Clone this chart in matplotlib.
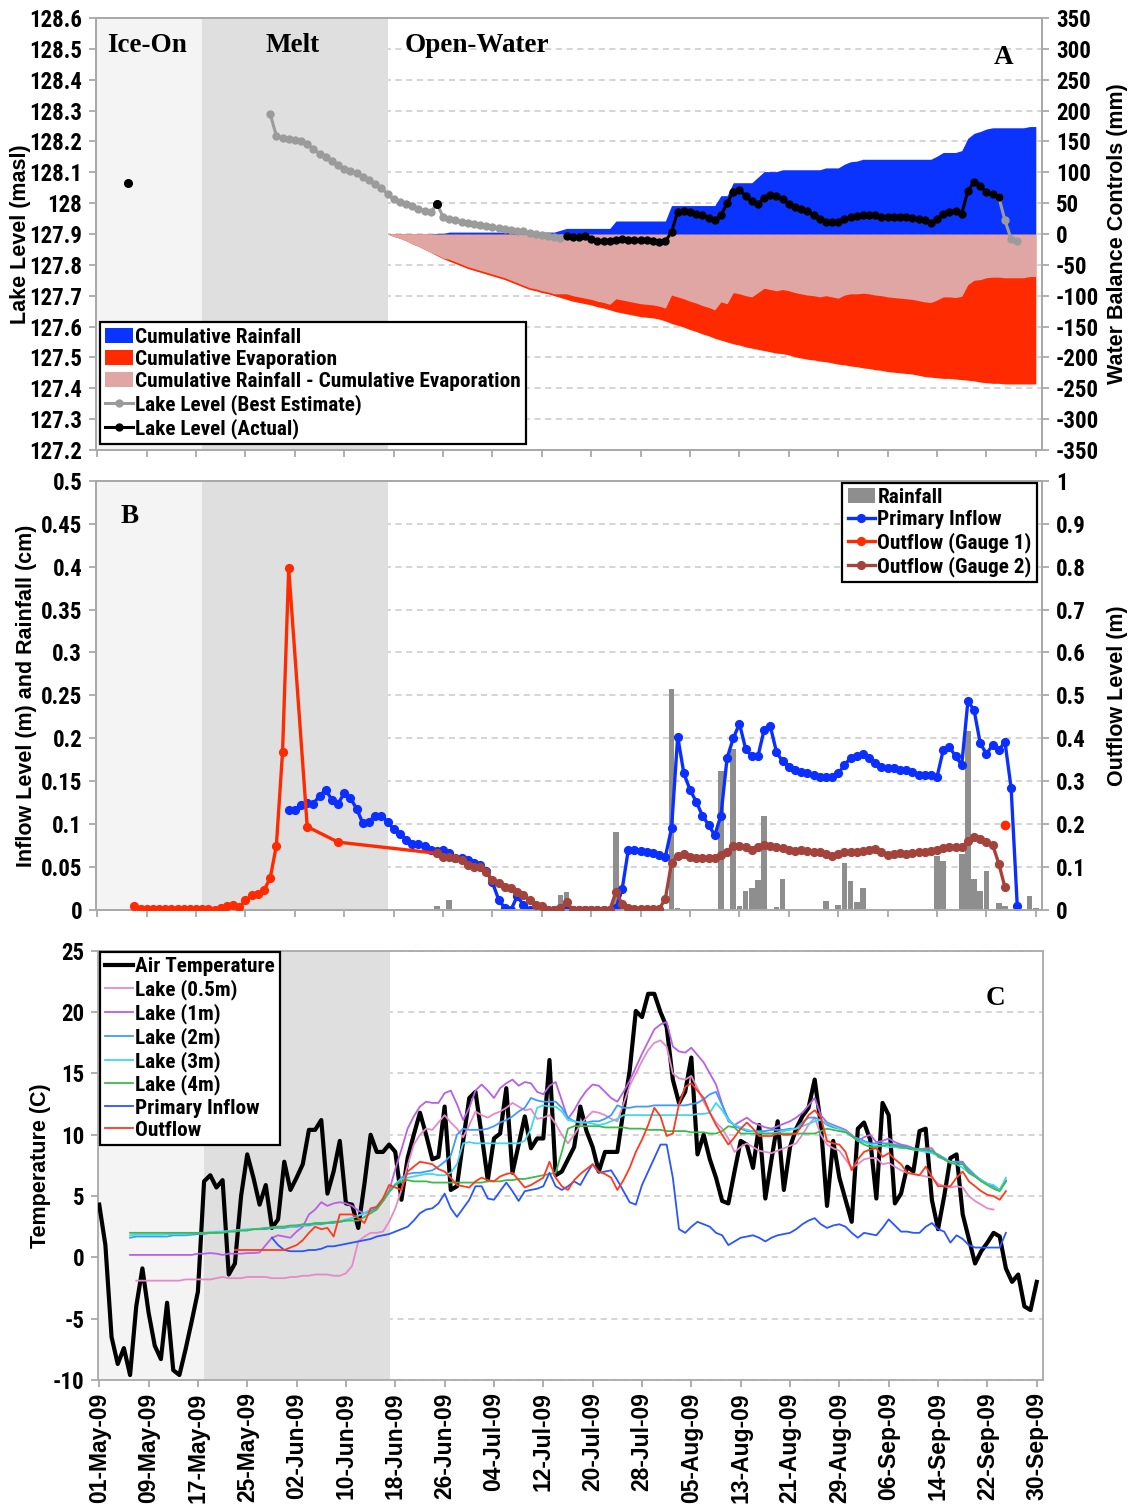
import numpy as np
import pandas as pd
import matplotlib
matplotlib.use("Agg")
import matplotlib.pyplot as plt
import matplotlib.dates as mdates
from matplotlib import font_manager
from matplotlib.ticker import FixedLocator, FuncFormatter


def _is_bold(w):
    return w == "bold" or (isinstance(w, (int, float)) and w >= 600)


def pick_narrow_face():
    # prefer a bold condensed sans face for the upright labels
    prefs = ["Liberation Sans Narrow", "Arial Narrow", "Roboto Condensed",
             "Open Sans Condensed", "Noto Sans", "Roboto", "Open Sans", "DejaVu Sans"]
    faces = [f for f in font_manager.fontManager.ttflist
             if _is_bold(f.weight) and f.style == "normal"
             and (f.stretch in ("condensed", "semi-condensed", "extra-condensed")
                  or "Narrow" in f.name or "Condensed" in f.name)]
    for name in prefs:
        for f in faces:
            if f.name == name:
                return f
    return faces[0] if faces else None


_names = {f.name for f in font_manager.fontManager.ttflist}
SANS = "Liberation Sans" if "Liberation Sans" in _names else "DejaVu Sans"
SERIF = "Liberation Serif" if "Liberation Serif" in _names else "DejaVu Serif"
_face = pick_narrow_face()
if _face is not None:
    NARROW, STRETCH = _face.name, _face.stretch
    TICK_SIZE, LEG_SIZE, LEG_SPACING, HANDLE_LEN = 16.5, 15.3, 0.15, 1.3
else:
    NARROW, STRETCH = SANS, "normal"
    TICK_SIZE, LEG_SIZE, LEG_SPACING, HANDLE_LEN = 14.5, 12.5, 0.3, 1.55

plt.rcParams["font.family"] = [NARROW, "DejaVu Sans"]
plt.rcParams["font.weight"] = "bold"
plt.rcParams["font.stretch"] = STRETCH

# ---------------- A: lake level and cumulative water balance ----------------
lake_best_start = "2009-05-29"
lake_best = [
    128.288, 128.218, 128.212, 128.208, 128.204, 128.200, 128.190, 128.175, 128.160, 128.150,
    128.135, 128.122, 128.110, 128.103, 128.097, 128.085, 128.075, 128.062, 128.048, 128.030,
    128.012, 128.005, 127.997, 127.990, 127.982, 127.974, 127.970, 127.997, 127.956, 127.950,
    127.944, 127.940, 127.936, 127.933, 127.930, 127.926, 127.922, 127.920, 127.917, 127.914,
    127.911, 127.908, 127.904, 127.900, 127.896, 127.892, 127.889, 127.888,
]
lake_best_tail_start = "2009-09-24"
lake_best_tail = [128.020, 127.944, 127.884, 127.878]

lake_actual_start = "2009-07-16"
lake_actual = [
    127.892, 127.890, 127.890, 127.894, 127.884, 127.878, 127.876, 127.878, 127.880, 127.884,
    127.882, 127.882, 127.882, 127.882, 127.876, 127.874, 127.876, 127.906, 127.972, 127.974,
    127.970, 127.966, 127.960, 127.952, 127.944, 127.960, 128.000, 128.036, 128.042, 128.024,
    128.006, 127.998, 128.016, 128.026, 128.024, 128.012, 127.998, 127.988, 127.980, 127.974,
    127.960, 127.948, 127.940, 127.938, 127.940, 127.948, 127.954, 127.958, 127.960, 127.962,
    127.960, 127.956, 127.954, 127.954, 127.954, 127.954, 127.952, 127.948, 127.944, 127.934,
    127.948, 127.964, 127.972, 127.976, 127.966, 128.040, 128.068, 128.054, 128.036, 128.028,
    128.020,
]
lake_actual_spot_days = ["2009-05-06", "2009-06-25"]
lake_actual_spot = [128.065, 127.997]

balance_start = "2009-06-17"
cum_rain = [
    0, 0, 0, 0, 0, 0, 0, 0, 1, 1,
    3, 3, 3, 3, 3, 3, 3, 3, 3, 3,
    3, 3, 3, 3, 3, 3, 3, 3, 6, 9,
    9, 9, 9, 9, 9, 9, 9, 21, 21, 21,
    21, 21, 21, 21, 21, 21, 46, 46, 46, 46,
    46, 46, 46, 46, 62, 62, 83, 83, 83, 83,
    92, 101, 101, 101, 104, 104, 104, 104, 104, 104,
    104, 107, 107, 107, 113, 117, 118, 121, 121, 121,
    121, 121, 121, 121, 121, 121, 121, 121, 121, 126,
    132, 132, 132, 135, 155, 163, 166, 170, 172, 172,
    172, 172, 172, 172, 174, 174,
]
cum_evap = [
    0, -4, -7, -11, -16, -20, -25, -30, -35, -40,
    -44, -48, -52, -56, -59, -62, -65, -68, -71, -74,
    -78, -82, -86, -90, -92, -95, -97, -100, -103, -106,
    -109, -111, -113, -115, -118, -120, -123, -126, -128, -130,
    -132, -134, -135, -136, -138, -141, -145, -148, -151, -155,
    -158, -162, -165, -169, -172, -175, -178, -180, -183, -185,
    -187, -189, -191, -193, -194, -196, -199, -201, -203, -204,
    -206, -207, -209, -211, -212, -214, -215, -217, -218, -220,
    -221, -223, -224, -225, -226, -227, -229, -231, -232, -233,
    -234, -234, -235, -236, -237, -238, -240, -241, -242, -242,
    -243, -243, -243, -243, -243, -243,
]

# ---------------- B: inflow, outflow and rainfall ----------------
rain_days = [
    "2009-06-25", "2009-06-27", "2009-07-15", "2009-07-16", "2009-07-24", "2009-08-02",
    "2009-08-03", "2009-08-10", "2009-08-12", "2009-08-13", "2009-08-14", "2009-08-15",
    "2009-08-16", "2009-08-17", "2009-08-19", "2009-08-20", "2009-08-27", "2009-08-29",
    "2009-08-30", "2009-08-31", "2009-09-01", "2009-09-02", "2009-09-14", "2009-09-15",
    "2009-09-18", "2009-09-19", "2009-09-20", "2009-09-21", "2009-09-22", "2009-09-24",
    "2009-09-25", "2009-09-29", "2009-09-30",
]
rain_cm = [
    0.005, 0.012, 0.017, 0.021, 0.091, 0.258,
    0.002, 0.162, 0.187, 0.004, 0.022, 0.025,
    0.035, 0.109, 0.003, 0.036, 0.010, 0.006,
    0.055, 0.034, 0.009, 0.026, 0.063, 0.057,
    0.065, 0.209, 0.036, 0.022, 0.045, 0.008,
    0.004, 0.016, 0.002,
]

inflow_start = "2009-06-01"
inflow_m = [
    0.116, 0.117, 0.122, 0.125, 0.124, 0.133, 0.140, 0.128, 0.124, 0.136,
    0.130, 0.118, 0.101, 0.103, 0.110, 0.110, 0.103, 0.094, 0.089, 0.082,
    0.077, 0.077, 0.074, 0.070, 0.069, 0.070, 0.066, 0.061, 0.060, 0.058,
    0.055, 0.052, 0.045, 0.032, 0.012, 0.002, 0.000, 0.016, 0.006, 0.000,
    0.000, 0.000, 0.000, 0.000, 0.000, 0.000, 0.000, 0.000, 0.000, 0.000,
    0.000, 0.000, 0.000, 0.002, 0.024, 0.070, 0.070, 0.069, 0.068, 0.066,
    0.064, 0.062, 0.095, 0.202, 0.159, 0.140, 0.126, 0.110, 0.099, 0.087,
    0.110, 0.177, 0.200, 0.217, 0.188, 0.179, 0.179, 0.210, 0.214, 0.184,
    0.173, 0.167, 0.163, 0.161, 0.159, 0.157, 0.155, 0.155, 0.155, 0.159,
    0.169, 0.177, 0.179, 0.182, 0.177, 0.171, 0.167, 0.165, 0.165, 0.163,
    0.163, 0.161, 0.157, 0.157, 0.157, 0.155, 0.186, 0.190, 0.179, 0.169,
    0.243, 0.233, 0.194, 0.182, 0.192, 0.186, 0.196, 0.142, 0.004,
]

gauge1_start = "2009-05-07"
gauge1_m = [
    0.008, 0.002, 0.002, 0.002, 0.002, 0.002, 0.002, 0.002, 0.002, 0.002,
    0.002, 0.002, 0.002, 0.000, 0.004, 0.008, 0.012, 0.006, 0.022, 0.034,
    0.038, 0.046, 0.074, 0.150, 0.368, 0.796,
]
gauge1_late_days = ["2009-06-04", "2009-06-09", "2009-06-25"]
gauge1_late_m = [0.194, 0.158, 0.132]
gauge1_spot_day = "2009-09-25"
gauge1_spot_m = 0.198

gauge2_start = "2009-06-25"
gauge2_m = [
    0.132, 0.124, 0.124, 0.120, 0.116, 0.104, 0.100, 0.100, 0.088, 0.070,
    0.062, 0.054, 0.050, 0.042, 0.034, 0.022, 0.012, 0.008, 0.000, 0.000,
    0.004, 0.018, 0.000, 0.000, 0.000, 0.000, 0.000, 0.000, 0.000, 0.042,
    0.014, 0.004, 0.002, 0.002, 0.002, 0.002, 0.002, 0.026, 0.110, 0.126,
    0.130, 0.124, 0.122, 0.120, 0.120, 0.122, 0.128, 0.136, 0.150, 0.150,
    0.146, 0.140, 0.146, 0.152, 0.150, 0.146, 0.144, 0.140, 0.138, 0.140,
    0.138, 0.136, 0.134, 0.130, 0.126, 0.130, 0.134, 0.134, 0.136, 0.138,
    0.140, 0.142, 0.136, 0.128, 0.130, 0.132, 0.130, 0.132, 0.134, 0.136,
    0.138, 0.140, 0.144, 0.146, 0.146, 0.146, 0.160, 0.170, 0.166, 0.158,
    0.152, 0.108, 0.053,
]

# ---------------- C: temperatures ----------------
air_start = "2009-05-01"
air_temp = [
    4.3, 1.0, -6.5, -8.7, -7.4, -9.6, -4.0, -0.9, -4.5, -7.2,
    -8.3, -3.7, -9.2, -9.6, -7.5, -5.2, -2.8, 6.2, 6.7, 5.7,
    6.3, -1.4, -0.5, 5.0, 8.4, 6.5, 4.3, 5.9, 2.4, 3.1,
    7.8, 5.5, 6.5, 7.6, 10.4, 10.4, 11.2, 5.2, 7.0, 9.5,
    4.4, 4.3, 2.4, 6.0, 10.0, 8.6, 8.6, 9.2, 8.6, 4.7,
    8.1, 10.0, 11.8, 10.0, 8.0, 8.2, 12.3, 5.5, 5.8, 9.5,
    13.0, 13.5, 10.0, 6.3, 9.7, 10.1, 13.8, 6.9, 9.2, 11.5,
    8.9, 9.7, 9.7, 16.1, 6.7, 7.0, 8.0, 9.0, 12.3, 10.3,
    9.0, 7.0, 8.6, 8.6, 8.6, 12.0, 15.2, 20.1, 19.6, 21.5,
    21.5, 20.0, 18.8, 14.5, 12.6, 13.5, 16.3, 8.4, 10.0, 8.0,
    6.5, 4.6, 4.4, 7.0, 9.5, 9.2, 7.3, 10.8, 4.8, 8.0,
    11.1, 5.5, 9.0, 10.5, 11.5, 12.2, 14.5, 10.8, 4.2, 9.5,
    6.5, 4.7, 2.9, 10.5, 11.0, 9.6, 4.8, 12.6, 11.6, 4.4,
    5.2, 7.4, 7.0, 10.3, 10.5, 4.7, 2.3, 5.0, 8.1, 8.4,
    3.5, 1.5, -0.5, 0.5, 1.2, 2.0, 1.7, -0.9, -2.0, -1.4,
    -4.0, -4.3, -2.0,
]

lake05_start = "2009-05-07"
lake05_temp = [
    -1.9, -1.9, -1.9, -1.9, -1.9, -1.9, -1.9, -1.9, -1.8, -1.8,
    -1.8, -1.8, -1.8, -1.7, -1.6, -1.7, -1.7, -1.7, -1.6, -1.6,
    -1.6, -1.6, -1.7, -1.7, -1.7, -1.6, -1.6, -1.5, -1.5, -1.4,
    -1.4, -1.4, -1.5, -1.5, -1.3, -0.7, 1.3, 1.7, 2.0, 2.0,
    2.1, 2.9, 4.0, 5.5, 7.5, 9.2, 10.0, 10.5, 10.4, 11.0,
    11.6, 11.0, 10.5, 9.8, 10.8, 11.9, 11.6, 11.4, 11.7, 11.9,
    12.2, 12.6, 12.3, 12.0, 12.1, 11.3, 11.4, 11.6, 10.9, 10.0,
    9.3, 10.0, 10.8, 11.4, 11.9, 11.8, 11.6, 11.3, 11.1, 12.5,
    14.0, 15.0, 16.0, 16.9, 17.5, 17.7, 17.2, 15.0, 14.6, 14.5,
    14.8, 13.8, 12.7, 11.8, 11.0, 10.5, 9.7, 8.6, 9.0, 9.3,
    9.0, 8.7, 8.6, 8.5, 8.7, 8.9, 9.1, 9.3, 10.0, 10.8,
    11.4, 10.0, 9.2, 8.9, 8.7, 8.0, 7.3, 7.6, 8.0, 8.1,
    8.1, 7.6, 7.7, 7.4, 7.1, 6.9, 6.8, 6.7, 6.6, 6.5,
    6.0, 5.8, 5.7, 5.8, 5.7, 5.0, 4.6, 4.3, 4.0, 3.9,
]

lake_deep_start = "2009-05-06"
lake1_temp = [
    0.2, 0.2, 0.2, 0.2, 0.2, 0.2, 0.2, 0.2, 0.2, 0.2,
    0.2, 0.3, 0.3, 0.35, 0.3, 0.2, 0.3, 0.3, 0.3, 0.35,
    0.35, 0.4, 1.0, 1.6, 1.8, 1.7, 1.6, 2.1, 2.5, 3.5,
    3.9, 4.5, 4.2, 4.4, 4.5, 4.4, 4.2, 3.8, 3.6, 3.8,
    4.0, 4.6, 5.4, 7.2, 8.8, 10.5, 11.5, 12.3, 12.7, 12.6,
    12.6, 13.4, 13.6, 12.5, 11.2, 12.2, 13.6, 14.1, 13.6, 13.0,
    13.8, 14.2, 14.5, 14.0, 14.3, 14.2, 13.5, 13.3, 14.0, 14.3,
    12.8, 11.3, 12.0, 12.9, 13.6, 14.1, 14.0, 13.5, 13.0, 12.7,
    13.5, 14.4, 15.5, 16.6, 17.6, 18.6, 19.0, 19.2, 17.2, 16.8,
    16.7, 17.1, 16.5, 15.9, 15.0, 14.1, 12.5, 11.1, 10.8, 11.1,
    11.4, 11.0, 10.8, 10.6, 10.5, 10.7, 10.9, 11.1, 11.4, 11.8,
    12.4, 13.0, 11.6, 11.0, 10.8, 10.6, 10.4, 10.0, 9.5, 9.8,
    10.0, 9.4, 9.5, 9.7, 9.4, 9.2, 9.1, 8.9, 8.8, 8.9,
    8.9, 8.2, 8.0, 7.8, 7.8, 7.8, 7.0, 6.6, 6.3, 6.0,
    5.8, 5.5, 6.3,
]
lake2_temp = [
    1.6, 1.7, 1.7, 1.7, 1.7, 1.7, 1.7, 1.8, 1.8, 1.8,
    1.85, 1.9, 1.9, 2.0, 2.0, 2.1, 2.1, 2.2, 2.2, 2.2,
    2.3, 2.3, 2.3, 2.4, 2.4, 2.4, 2.5, 2.5, 2.6, 2.6,
    2.7, 2.7, 2.8, 2.8, 2.9, 3.0, 3.2, 3.4, 3.6, 3.8,
    4.0, 4.6, 5.3, 5.9, 6.5, 6.8, 6.9, 6.9, 7.0, 7.1,
    7.4, 7.8, 8.3, 10.0, 10.5, 10.4, 10.4, 10.4, 10.5, 10.7,
    11.0, 11.2, 11.5, 11.9, 12.2, 13.0, 12.8, 12.7, 12.7, 12.7,
    12.2, 11.4, 11.1, 11.0, 11.0, 11.1, 11.1, 11.3, 11.6, 12.4,
    12.2, 12.2, 12.3, 12.3, 12.3, 12.4, 12.4, 12.4, 12.4, 12.4,
    12.4, 12.5, 12.6, 12.9, 13.3, 13.5, 12.4, 11.3, 10.7, 10.5,
    10.3, 10.3, 10.3, 10.3, 10.4, 10.4, 10.4, 10.5, 10.5, 11.0,
    11.4, 11.4, 11.2, 10.8, 10.6, 10.5, 10.3, 9.9, 9.7, 9.5,
    9.3, 9.3, 9.3, 9.3, 9.2, 9.1, 9.0, 8.9, 8.8, 8.7,
    8.6, 8.4, 8.1, 7.8, 7.8, 7.7, 7.2, 6.7, 6.3, 6.0,
    5.8, 5.5, 6.2,
]
lake3_temp = [
    1.8, 1.85, 1.85, 1.85, 1.85, 1.85, 1.9, 1.9, 1.9, 1.9,
    1.95, 2.0, 2.0, 2.05, 2.1, 2.1, 2.15, 2.2, 2.25, 2.3,
    2.3, 2.35, 2.4, 2.45, 2.5, 2.5, 2.55, 2.6, 2.65, 2.7,
    2.75, 2.8, 2.85, 2.9, 2.95, 3.1, 3.2, 3.4, 3.6, 3.9,
    4.2, 4.8, 5.4, 6.0, 6.4, 6.5, 6.6, 6.7, 6.8, 6.8,
    6.7, 6.7, 6.9, 7.6, 9.3, 9.4, 9.3, 9.3, 9.3, 9.3,
    9.3, 9.3, 9.3, 9.3, 9.5, 10.5, 12.2, 12.4, 12.3, 12.3,
    11.9, 11.2, 11.1, 11.0, 11.0, 10.9, 10.8, 10.9, 11.1, 11.3,
    11.6, 11.6, 11.6, 11.6, 11.6, 11.6, 11.6, 11.6, 11.6, 11.6,
    11.6, 11.6, 11.7, 11.7, 11.8, 12.6, 12.0, 11.2, 10.8, 10.6,
    10.4, 10.3, 10.2, 10.1, 10.1, 10.2, 10.3, 10.4, 10.5, 10.7,
    10.9, 11.1, 11.2, 10.9, 10.7, 10.5, 10.3, 9.9, 9.5, 9.4,
    9.2, 9.1, 9.1, 9.0, 9.0, 8.9, 8.9, 8.8, 8.7, 8.6,
    8.5, 8.3, 8.0, 7.8, 7.6, 7.3, 6.9, 6.6, 6.3, 6.0,
    5.9, 5.5, 6.5,
]
lake4_temp = [
    2.0, 2.0, 2.0, 2.0, 2.0, 2.0, 2.0, 2.0, 2.0, 2.0,
    2.0, 2.0, 2.0, 2.0, 2.0, 2.0, 2.1, 2.1, 2.2, 2.2,
    2.3, 2.3, 2.4, 2.4, 2.5, 2.5, 2.6, 2.6, 2.7, 2.7,
    2.8, 2.8, 2.8, 2.9, 2.9, 3.0, 3.0, 3.0, 3.3, 3.6,
    3.9, 4.6, 5.4, 5.9, 6.2, 6.3, 6.2, 6.2, 6.2, 6.1,
    6.1, 6.1, 6.1, 6.1, 6.1, 6.1, 6.1, 6.1, 6.2, 6.2,
    6.2, 6.3, 6.3, 6.4, 6.4, 6.5, 6.6, 6.7, 6.8, 6.9,
    8.6, 10.5, 10.7, 10.7, 10.7, 10.7, 10.7, 10.6, 10.6, 10.6,
    10.6, 10.5, 10.5, 10.5, 10.4, 10.4, 10.4, 10.3, 10.3, 10.3,
    10.3, 10.2, 10.2, 10.2, 10.1, 10.1, 10.3, 10.7, 10.6, 10.1,
    10.1, 10.1, 10.1, 10.1, 10.1, 10.1, 10.1, 10.1, 10.1, 10.1,
    10.1, 10.1, 10.3, 10.5, 10.4, 10.3, 10.2, 9.9, 9.5, 9.2,
    9.0, 9.0, 9.1, 9.2, 9.1, 9.0, 8.9, 8.8, 8.8, 8.8,
    8.7, 8.3, 8.0, 7.7, 7.6, 7.6, 6.9, 6.6, 6.2, 5.9,
    5.6, 5.4, 6.2,
]

inflow_temp_start = "2009-05-29"
inflow_temp = [
    1.6, 1.0, 0.6, 0.5, 0.5, 0.5, 0.6, 0.6, 0.7, 0.9,
    0.9, 1.0, 1.1, 1.2, 1.3, 1.4, 1.5, 1.7, 1.8, 1.9,
    2.1, 2.3, 2.5, 3.0, 3.6, 3.9, 4.0, 4.4, 5.2, 4.0,
    3.3, 4.0, 4.7, 5.8, 5.8, 4.8, 4.7, 5.4, 6.1, 5.4,
    4.6, 5.4, 5.5, 5.6, 5.8, 6.9, 5.8, 5.5, 5.8, 6.2,
    5.9, 6.8, 7.6, 6.9, 7.0, 7.1, 6.3, 5.4, 4.5, 4.3,
    5.9, 7.0, 8.1, 9.2, 9.2, 6.5, 2.3, 2.0, 2.5, 2.9,
    2.7, 2.5, 2.0, 1.8, 1.0, 1.3, 1.6, 1.7, 1.8, 1.6,
    1.3, 1.6, 1.8, 1.9, 2.0, 2.3, 2.7, 3.0, 3.2, 2.7,
    2.4, 2.6, 2.7, 2.5, 2.0, 1.6, 2.0, 1.9, 1.8, 2.4,
    3.1, 2.6, 2.1, 2.1, 2.0, 2.0, 2.5, 2.8, 2.3, 2.1,
    1.2, 1.8, 1.5, 1.0, 0.8, 0.8, 0.8, 0.8, 0.8, 2.0,
]

outflow_temp_start = "2009-05-23"
outflow_temp = [
    0.6, 0.6, 0.6, 0.6, 0.6, 0.6, 0.6, 0.6, 0.6, 0.8,
    1.0, 1.4, 2.0, 2.5, 2.3, 2.4, 1.7, 3.5, 3.5, 3.5,
    3.2, 2.8, 4.0, 4.1, 4.8, 5.9, 5.7, 5.5, 7.0, 7.4,
    7.8, 7.7, 7.6, 7.2, 7.0, 6.5, 5.9, 5.8, 5.7, 6.2,
    6.5, 6.3, 6.2, 6.6, 6.8, 6.9, 6.3, 5.7, 5.9, 6.2,
    6.5, 7.8, 6.5, 5.8, 5.5, 6.3, 6.8, 7.2, 7.6, 7.0,
    6.8, 6.5, 5.5, 6.3, 7.3, 8.6, 9.6, 10.8, 12.2, 11.5,
    9.9, 10.1, 12.5, 13.9, 14.2, 13.6, 13.0, 11.8, 10.8, 10.0,
    9.2, 9.8, 10.5, 11.0, 10.5, 9.9, 9.9, 9.9, 10.1, 10.0,
    10.0, 10.1, 10.8, 11.6, 12.0, 11.4, 9.5, 9.3, 9.2, 8.6,
    7.1, 8.0, 8.6, 8.8, 8.9, 8.2, 8.5, 8.0, 7.6, 6.9,
    6.8, 6.7, 7.4, 6.6, 5.8, 5.8, 5.8, 6.5, 7.0, 6.2,
    5.8, 5.4, 5.1, 5.0, 4.7, 5.4,
]

# season boundaries and axis range
ice_end = pd.Timestamp("2009-05-17 22:00")
melt_end = pd.Timestamp("2009-06-17 02:00")
x_min = pd.Timestamp("2009-04-30 19:00")
x_max = pd.Timestamp("2009-10-01 00:00")
date_ticks = pd.date_range("2009-05-01", "2009-09-30", freq="8D")

ICE = "#F4F4F4"
MELT = "#DFDFDF"
GRID = "#C9C9C9"
SPINE = "#A9A9A9"
ROT_SIZE = 15.5


def daily(start, values):
    return pd.date_range(start, periods=len(values), freq="D")


def seasons(ax):
    ax.axvspan(x_min, ice_end, color=ICE, lw=0, zorder=0.6)
    ax.axvspan(ice_end, melt_end, color=MELT, lw=0, zorder=0.6)


def base_style(ax, grid=True):
    for sp in ax.spines.values():
        sp.set_color(SPINE)
        sp.set_linewidth(1.3)
    ax.tick_params(direction="out", length=5, width=1.3, color=SPINE,
                   labelsize=TICK_SIZE, pad=5)
    ax.set_xlim(x_min, x_max)
    ax.xaxis.set_major_locator(FixedLocator(mdates.date2num(date_ticks)))
    if grid:
        ax.set_axisbelow(True)
        ax.yaxis.grid(True, color=GRID, linewidth=1.1, linestyle=(0, (4, 3)))


def num_fmt(digits):
    return FuncFormatter(lambda v, _: f"{round(v, digits) + 0:g}")


def legend_box(ax, handles, labels, **kw):
    leg = ax.legend(handles, labels, frameon=True, fancybox=False, framealpha=1,
                    edgecolor="black", borderpad=0.25, labelspacing=LEG_SPACING,
                    handlelength=HANDLE_LEN, handletextpad=0.1, borderaxespad=0,
                    prop={"family": NARROW, "weight": "bold", "stretch": STRETCH,
                          "size": LEG_SIZE}, **kw)
    leg.get_frame().set_linewidth(1.6)
    leg.set_zorder(20)
    return leg


def side_label(ax, text, x):
    ax.set_ylabel(text, family=SANS, stretch="normal", size=ROT_SIZE, weight="bold",
                  va="center", rotation=90)
    ax.yaxis.set_label_coords(x, 0.5)


fig = plt.figure(figsize=(11.31, 15.06), dpi=100)

# ---------------- panel A ----------------
axA = fig.add_axes([0.0849, 0.7012, 0.8364, 0.2869])
axA2 = axA.twinx()
axA.set_zorder(axA2.get_zorder() + 1)
axA.patch.set_visible(False)
base_style(axA, grid=False)
base_style(axA2)
seasons(axA2)

bal_days = daily(balance_start, cum_rain)
net = np.array(cum_rain) + np.array(cum_evap)
h_evap = axA2.fill_between(bal_days, 0, cum_evap, color="#FF2A00", lw=0, zorder=1)
h_net = axA2.fill_between(bal_days, 0, net, color="#E0A6A4", lw=0, zorder=2)
h_rain = axA2.fill_between(bal_days, 0, cum_rain, color="#0A33FF", lw=0, zorder=2)

line_kw = dict(lw=2.2, marker="o", ms=5.0)
h_best, = axA.plot(daily(lake_best_start, lake_best), lake_best, color="#9B9B9B", **line_kw)
axA.plot(daily(lake_best_tail_start, lake_best_tail), lake_best_tail, color="#9B9B9B", **line_kw)
h_act, = axA.plot(daily(lake_actual_start, lake_actual), lake_actual, color="black", **line_kw)
axA.plot(pd.to_datetime(lake_actual_spot_days), lake_actual_spot, ls="none",
         marker="o", ms=5.5, color="black")

axA.set_ylim(127.2, 128.6)
axA.yaxis.set_major_locator(FixedLocator(np.round(np.arange(127.2, 128.61, 0.1), 1)))
axA.yaxis.set_major_formatter(num_fmt(1))
axA2.set_ylim(-350, 350)
axA2.yaxis.set_major_locator(FixedLocator(np.arange(-350, 351, 50)))
axA2.yaxis.set_major_formatter(num_fmt(0))
axA.tick_params(axis="x", labelbottom=False)
side_label(axA, "Lake Level (masl)", -0.080)
side_label(axA2, "Water Balance Controls (mm)", 1.080)

serif = dict(family=SERIF, weight="bold", stretch="normal", size=19.5,
             transform=axA.transAxes, ha="center", va="center")
axA.text(0.054, 0.937, "Ice-On", **serif)
axA.text(0.208, 0.937, "Melt", **serif)
axA.text(0.403, 0.937, "Open-Water", **serif)
axA.text(0.959, 0.908, "A", **serif)

legend_box(axA, [h_rain, h_evap, h_net, h_best, h_act],
           ["Cumulative Rainfall", "Cumulative Evaporation",
            "Cumulative Rainfall - Cumulative Evaporation",
            "Lake Level (Best Estimate)", "Lake Level (Actual)"],
           loc="lower left", bbox_to_anchor=(0.004, 0.014))

# ---------------- panel B ----------------
axB = fig.add_axes([0.0849, 0.3958, 0.8364, 0.2849])
axB2 = axB.twinx()
base_style(axB)
base_style(axB2, grid=False)
seasons(axB)

h_bar = axB.bar(pd.to_datetime(rain_days), rain_cm, width=0.9, color="#8E8E8E",
                lw=0, zorder=2)
mk = dict(lw=2.4, marker="o", ms=5.6)
h_in, = axB.plot(daily(inflow_start, inflow_m), inflow_m, color="#0B2FFF", zorder=3, **mk)
g1_days = list(daily(gauge1_start, gauge1_m)) + list(pd.to_datetime(gauge1_late_days))
h_g1, = axB2.plot(g1_days, gauge1_m + gauge1_late_m, color="#FF2A00", zorder=3, **mk)
axB2.plot([pd.Timestamp(gauge1_spot_day)], [gauge1_spot_m], ls="none", marker="o",
          ms=6, color="#FF2A00")
h_g2, = axB2.plot(daily(gauge2_start, gauge2_m), gauge2_m, color="#A4433C", zorder=4, **mk)

axB.set_ylim(0, 0.5)
axB.yaxis.set_major_locator(FixedLocator(np.round(np.arange(0, 0.501, 0.05), 2)))
axB.yaxis.set_major_formatter(num_fmt(2))
axB2.set_ylim(0, 1)
axB2.yaxis.set_major_locator(FixedLocator(np.round(np.arange(0, 1.001, 0.1), 1)))
axB2.yaxis.set_major_formatter(num_fmt(1))
axB.tick_params(axis="x", labelbottom=False)
side_label(axB, "Inflow Level (m) and Rainfall (cm)", -0.074)
side_label(axB2, "Outflow Level (m)", 1.080)
axB.text(0.035, 0.916, "B", family=SERIF, weight="bold", stretch="normal", size=19.5,
         transform=axB.transAxes, ha="center", va="center")

legend_box(axB2, [h_bar, h_in, h_g1, h_g2],
           ["Rainfall", "Primary Inflow", "Outflow (Gauge 1)", "Outflow (Gauge 2)"],
           loc="upper right", bbox_to_anchor=(0.9947, 0.9953))

# ---------------- panel C ----------------
axC = fig.add_axes([0.0866, 0.0837, 0.8355, 0.2849])
base_style(axC)
seasons(axC)

series_c = [
    ("Air Temperature", air_start, air_temp, "black", 3.0),
    ("Lake (0.5m)", lake05_start, lake05_temp, "#E58AC9", 1.3),
    ("Lake (1m)", lake_deep_start, lake1_temp, "#B860E6", 1.3),
    ("Lake (2m)", lake_deep_start, lake2_temp, "#3D9BFF", 1.3),
    ("Lake (3m)", lake_deep_start, lake3_temp, "#3FD8F0", 1.3),
    ("Lake (4m)", lake_deep_start, lake4_temp, "#3DBB4A", 1.3),
    ("Primary Inflow", inflow_temp_start, inflow_temp, "#2A55FF", 1.3),
    ("Outflow", outflow_temp_start, outflow_temp, "#FF3A1E", 1.3),
]
handles_c = []
for label, start, vals, color, lw in series_c:
    h, = axC.plot(daily(start, vals), vals, color=color, lw=lw, zorder=3)
    handles_c.append(h)

axC.set_ylim(-10, 25)
axC.yaxis.set_major_locator(FixedLocator(np.arange(-10, 26, 5)))
axC.yaxis.set_major_formatter(num_fmt(0))
axC.xaxis.set_major_formatter(mdates.DateFormatter("%d-%b-%y"))
axC.tick_params(axis="x", labelrotation=90, labelfontfamily=SANS, labelsize=16.5, pad=4)
for lab in axC.get_xticklabels():
    lab.set_fontstretch("normal")
side_label(axC, "Temperature (C)", -0.061)
axC.text(0.950, 0.890, "C", family=SERIF, weight="bold", stretch="normal", size=19.5,
         transform=axC.transAxes, ha="center", va="center")

legend_box(axC, handles_c, [s[0] for s in series_c],
           loc="upper left", bbox_to_anchor=(0.002, 0.998))

fig.savefig("out.png", dpi=100)
